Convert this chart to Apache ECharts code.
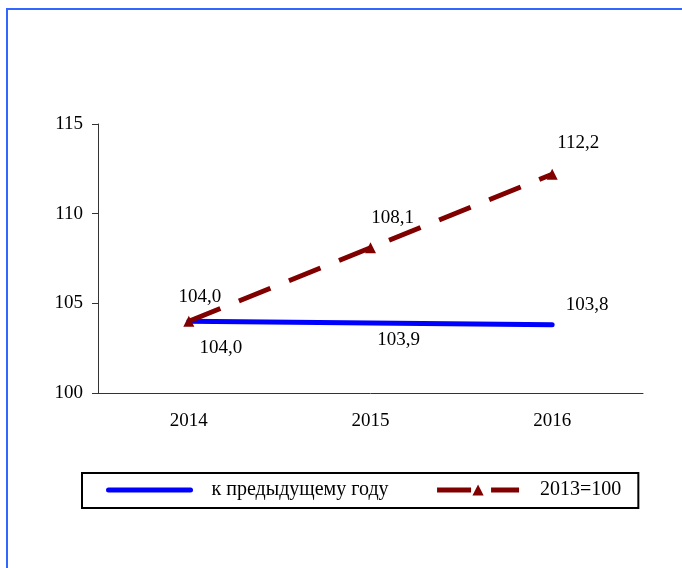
<!DOCTYPE html>
<html>
<head>
<meta charset="utf-8">
<script src="https://cdn.jsdelivr.net/npm/echarts@6/dist/echarts.min.js"></script>
<style>
  html, body { margin: 0; padding: 0; background: #fff; }
  #main { width: 682px; height: 568px; }
</style>
</head>
<body>
<div id="main"></div>
<script>
// данные
var years = ['2014', '2015', '2016'];
var prevYear = [104.0, 103.9, 103.8];
var base2013 = [104.0, 108.1, 112.2];
var prevName = 'к предыдущему году';
var baseName = '2013=100';

// смещения подписей
var prevOffsets = [[32, 27], [28, 17], [35, -20]];
var baseOffsets = [[11, -24], [22, -30], [26, -31]];

var font = '"Liberation Serif", "Times New Roman", serif';

function fmt(p) {
  return p.value.toFixed(1).replace('.', ',');
}

function withLabels(values, offsets) {
  return values.map(function (v, i) {
    return { value: v, label: { offset: offsets[i] } };
  });
}

var chart = echarts.init(document.getElementById('main'));

var option = {
  animation: false,
  backgroundColor: '#fff',
  textStyle: { fontFamily: font, color: '#000' },
  graphic: [{
    type: 'polyline',
    shape: { points: [[7, 568], [7, 9], [682, 9]] },
    style: { stroke: '#3366ff', lineWidth: 2, fill: null }
  }],
  grid: { left: 98, right: 39, top: 124, bottom: 175 },
  legend: {
    left: 82,
    top: 473,
    padding: [7, 17, 8, 24],
    borderColor: '#000',
    borderWidth: 2,
    itemWidth: 82,
    itemHeight: 14,
    itemGap: 46,
    textStyle: { fontFamily: font, fontSize: 20, color: '#000', padding: [0, 0, 0, 16] },
    data: [
      { name: prevName, itemStyle: { opacity: 0 }, lineStyle: { width: 5, cap: 'round' } },
      { name: baseName, lineStyle: { width: 5 } }
    ]
  },
  xAxis: {
    type: 'category',
    data: years,
    boundaryGap: true,
    axisLine: { lineStyle: { color: '#333', width: 1 } },
    axisTick: { length: 5, lineStyle: { color: '#333' } },
    axisLabel: { fontFamily: font, fontSize: 19, color: '#000', margin: 19 }
  },
  yAxis: {
    type: 'value',
    min: 100,
    max: 115,
    interval: 5,
    splitLine: { show: false },
    axisLine: { show: true, lineStyle: { color: '#333', width: 1 } },
    axisTick: { show: true, length: 6, lineStyle: { color: '#333' } },
    axisLabel: { fontFamily: font, fontSize: 19, color: '#000', margin: 15 }
  },
  series: [
    {
      name: prevName,
      type: 'line',
      data: withLabels(prevYear, prevOffsets),
      symbol: 'circle',
      symbolSize: 1,
      itemStyle: { color: '#0000ff' },
      lineStyle: { color: '#0000ff', width: 5, cap: 'round' },
      label: {
        show: true, position: 'inside', formatter: fmt,
        fontFamily: font, fontSize: 19, color: '#000'
      }
    },
    {
      name: baseName,
      type: 'line',
      data: withLabels(base2013, baseOffsets),
      symbol: 'triangle',
      symbolSize: 11,
      itemStyle: { color: '#800000' },
      lineStyle: { color: '#800000', width: 5, type: [34, 20] },
      label: {
        show: true, position: 'inside', formatter: fmt,
        fontFamily: font, fontSize: 19, color: '#000'
      }
    }
  ]
};

chart.setOption(option);
</script>
</body>
</html>
